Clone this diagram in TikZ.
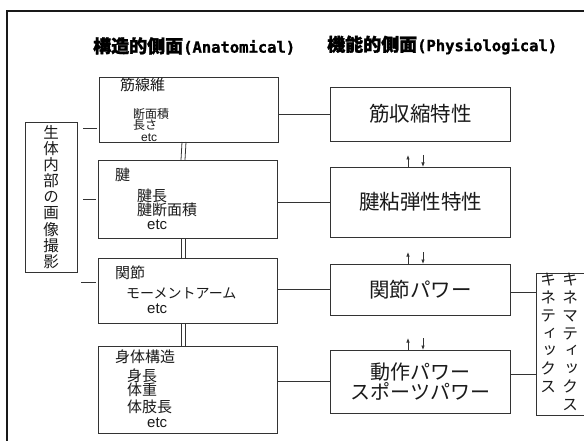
\documentclass[tikz,border=0pt]{standalone}
\usepackage{fontspec}
\setmainfont{Noto Sans CJK JP}
\newfontfamily\jp{Noto Sans CJK JP}
\newfontfamily\jpb{Noto Sans CJK JP}[BoldFeatures={FakeBold=1.6}]
\newfontfamily\jpv{Noto Sans CJK JP}[RawFeature=+vert]
\newfontfamily\lat{Liberation Sans}
\newfontfamily\monob{DejaVu Sans Mono}[BoldFeatures={FakeBold=1.2}]
\usetikzlibrary{arrows.meta,calc}
\newcommand{\fsz}[1]{\fontsize{#1}{#1}\selectfont}
\definecolor{ln}{HTML}{333333}
\definecolor{tx}{HTML}{1A1A1A}
\begin{document}
\begin{tikzpicture}[x=1pt,y=-1pt,
  box/.style={draw=ln, line width=0.9pt, inner sep=0pt, outer sep=0pt},
  conn/.style={draw=ln, line width=0.8pt},
  lbl/.style={inner sep=0pt, anchor=west, text=tx},
  arr/.style={draw=ln, line width=0.7pt, -{Latex[length=4.5pt,width=3.5pt]}},
  vtext/.style={inner sep=0pt, align=center, text=tx}
]
\useasboundingbox (0,0) rectangle (584,441);
\clip (0,0) rectangle (584,441);
\fill[white] (0,0) rectangle (584,441);
% outer frame
\draw[line width=2.4pt, black!90] (7,460) -- (7,11) -- (600,11);

% titles
\node[lbl, text=black] (t1) at (93,46) {{\jpb\bfseries\fsz{18}構造的側面}{\monob\bfseries\fsz{15.5}(Anatomical)}};
\node[lbl, text=black] (t2) at (327,45) {{\jpb\bfseries\fsz{18}機能的側面}{\monob\bfseries\fsz{15.5}(Physiological)}};

% left column boxes
\node[box, minimum width=179pt, minimum height=65pt] (L1) at (189,109.5) {};
\node[box, minimum width=179pt, minimum height=78pt] (L2) at (188,199) {};
\node[box, minimum width=179pt, minimum height=65pt] (L3) at (188,290.5) {};
\node[box, minimum width=179pt, minimum height=87pt] (L4) at (188,389.5) {};

% left box texts
\node[lbl] (a1) at (120,85) {\jp\fsz{15}筋線維};
\node[lbl] (a2) at (133,114) {\jp\fsz{12}断面積};
\node[lbl] (a3) at (133,125) {\jp\fsz{12}長さ};
\node[lbl] (a4) at (141,138) {\lat\fsz{12}etc};
\node[lbl] (b1) at (115,175) {\jp\fsz{15}腱};
\node[lbl] (b2) at (137,196) {\jp\fsz{15}腱長};
\node[lbl] (b3) at (137,210) {\jp\fsz{15}腱断面積};
\node[lbl] (b4) at (147,225) {\lat\fsz{15}etc};
\node[lbl] (c1) at (115,273) {\jp\fsz{15}関節};
\node[lbl] (c2) at (126,293) {\jp\fsz{14}モーメントアーム};
\node[lbl] (c3) at (147,309) {\lat\fsz{15}etc};
\node[lbl] (d1) at (115,357) {\jp\fsz{15}身体構造};
\node[lbl] (d2) at (127,376) {\jp\fsz{15}身長};
\node[lbl] (d3) at (127,390) {\jp\fsz{15}体重};
\node[lbl] (d4) at (127,407) {\jp\fsz{15}体肢長};
\node[lbl] (d5) at (147,423) {\lat\fsz{15}etc};

% right column boxes
\node[box, minimum width=180pt, minimum height=54pt, text=tx, font=\jp\fsz{20.5}] (R1) at (420.5,114) {筋収縮特性};
\node[box, minimum width=180pt, minimum height=70pt, text=tx, font=\jp\fsz{20.5}] (R2) at (420.5,202) {腱粘弾性特性};
\node[box, minimum width=180pt, minimum height=51pt, text=tx, font=\jp\fsz{20.5}] (R3) at (420.5,289.5) {関節パワー};
\node[box, minimum width=180pt, minimum height=63pt, text=tx, font=\jp\fontsize{20}{18}\selectfont, align=center] (R4) at (420.5,381.5) {動作パワー\\スポーツパワー};

% left image box
\node[box, minimum width=52pt, minimum height=150pt] (G) at (51,197) {};
\node[vtext, font=\jpv\fontsize{15.5}{16.1}\selectfont] (gt) at (G.center) {生\\体\\内\\部\\の\\画\\像\\撮\\影};

% kinematics box
\node[box, minimum width=64pt, minimum height=142pt] (K) at (568,344) {};
\node[vtext, anchor=north, font=\jpv\fontsize{16}{17.8}\selectfont] (k1) at (548,273) {キ\\ネ\\テ\\ィ\\ッ\\ク\\ス};
\node[vtext, anchor=north, font=\jpv\fontsize{16}{17.8}\selectfont] (k2) at (570,273) {キ\\ネ\\マ\\テ\\ィ\\ッ\\ク\\ス};

% connectors left -> right
\draw[conn] (L1.east |- R1.west) -- (R1.west);
\draw[conn] (L2.east |- R2.west) -- (R2.west);
\draw[conn] (L3.east |- R3.west) -- (R3.west);
\draw[conn] (L4.east |- R4.west) -- (R4.west);

% right -> kinematics
\coordinate (k3) at (510,292);
\coordinate (k4) at (510,374);
\draw[conn] (k3) -- (k3 -| K.west);
\draw[conn] (k4) -- (k4 -| K.west);

% short lines left of boxes
\coordinate (s1) at (83,128);
\coordinate (s2) at (83,199);
\coordinate (s3) at (81,282);
\draw[conn] (s1) -- ($(s1 -| L1.west)+(-3,0)$);
\draw[conn] (s2) -- ($(s2 -| L2.west)+(-3,0)$);
\draw[conn] (s3) -- ($(s3 -| L3.west)+(-3,0)$);

% double lines between left boxes
\foreach \u/\v in {L1/L2, L2/L3, L3/L4}{
  \draw[conn] ($(\u.south)+(-7,0)$) -- ($(\v.north)+(-7,0)$);
  \draw[conn] ($(\u.south)+(-3,0)$) -- ($(\v.north)+(-3,0)$);
}

% small arrows between right boxes
\foreach \v in {R2, R3, R4}{
  \draw[arr] ($(\v.north)+(-12.5,0)$) -- ++(0,-12);
  \draw[arr] ($(\v.north)+(2.5,-12)$) -- ++(0,12);
}
\end{tikzpicture}
\end{document}
